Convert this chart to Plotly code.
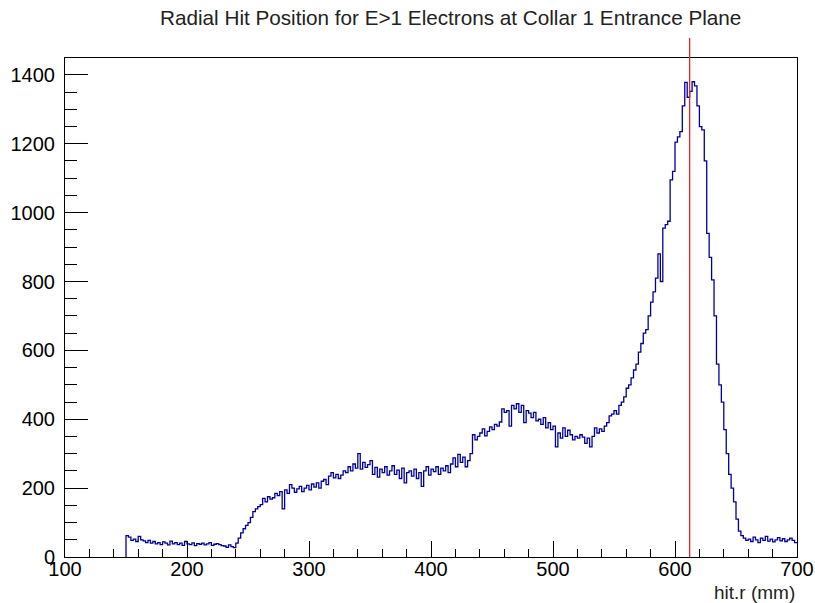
import plotly.graph_objects as go

# Histogram of radial hit position (2 mm bins starting at 150 mm)
bin_start = 150
bin_width = 2
counts = [
    62, 58, 48, 52, 45, 60, 50, 47, 42, 48,
    40, 45, 38, 42, 36, 44, 40, 35, 46, 38,
    42, 36, 40, 34, 45, 38, 36, 41, 33, 39,
    37, 40, 35, 38, 42, 34, 37, 39, 36, 33,
    32, 28, 35, 30, 27, 40, 55, 70, 82, 92,
    100, 115, 132, 140, 146, 152, 170, 160, 175, 168,
    172, 185, 178, 190, 140, 195, 185, 210, 200, 188,
    198, 205, 190, 200, 208, 195, 212, 203, 215, 200,
    220, 225, 210, 235, 245, 230, 240, 228, 238, 250,
    245, 262, 250, 270, 258, 300, 255, 275, 260, 268,
    280, 240, 260, 232, 255, 245, 262, 238, 250, 265,
    240, 252, 228, 258, 215, 245, 250, 235, 255, 228,
    245, 205, 250, 262, 238, 255, 248, 262, 240, 258,
    250, 265, 245, 270, 288, 262, 298, 275, 290, 262,
    280, 300, 355, 340, 350, 360, 372, 352, 365, 378,
    370, 385, 380, 392, 430, 420, 425, 380, 440, 430,
    445, 420, 440, 390, 425, 418, 405, 420, 395, 400,
    385, 405, 375, 390, 370, 380, 320, 360, 345, 375,
    350, 368, 355, 340, 350, 345, 355, 348, 330, 345,
    320, 350, 375, 360, 372, 365, 380, 390, 410, 415,
    425, 415, 440, 450, 465, 490, 500, 520, 543, 560,
    595, 620, 650, 660, 700, 740, 770, 810, 880, 800,
    955, 965, 975, 1095, 1120, 1205, 1220, 1235, 1310, 1378,
    1335, 1352, 1380, 1368, 1310, 1250, 1240, 1150, 940, 870,
    805, 700, 560, 500, 450, 370, 300, 240, 200, 160,
    110, 75, 62, 55, 48, 52, 45, 58, 50, 42,
    55, 48, 60, 46, 52, 44, 50, 56, 47, 53,
    45, 50, 55, 48, 42,
]
cut_position = 612  # mm, vertical marker

x_ticks = [100, 200, 300, 400, 500, 600, 700]
y_ticks = [0, 200, 400, 600, 800, 1000, 1200, 1400]

edges = [bin_start + bin_width * i for i in range(len(counts) + 1)]
step_x = [edges[0]] + edges
step_y = [0] + counts + [counts[-1]]

fig = go.Figure()
fig.add_trace(go.Scatter(
    x=step_x, y=step_y, mode="lines", line_shape="hv",
    line=dict(color="#000099", width=1.3), hoverinfo="skip", showlegend=False,
))

fig.add_shape(type="line", xref="x", yref="paper",
              x0=cut_position, x1=cut_position, y0=0, y1=1.04,
              line=dict(color="#ee2222", width=1.3), layer="above")

font = "Liberation Sans, Arial, Helvetica, sans-serif"
ymax = 1.05 * max(counts)

fig.update_layout(
    width=815, height=603,
    margin=dict(l=65, r=18, t=58, b=46, autoexpand=False),
    paper_bgcolor="white", plot_bgcolor="white",
    font=dict(family=font, size=20, color="black"),
    title=dict(text="Radial Hit Position for E>1 Electrons at Collar 1 Entrance Plane",
               x=0.553, xanchor="center", y=0.97, yanchor="middle",
               font=dict(size=20.7, color="#222222")),
    xaxis=dict(range=[100, 700], tickvals=x_ticks, ticks="inside", ticklen=16,
               tickcolor="black", tickwidth=1, showgrid=False, zeroline=False,
               showline=True, linecolor="black", linewidth=1, mirror=True,
               tickfont=dict(size=20), automargin=False, ticklabelstandoff=-6,
               minor=dict(dtick=20, ticks="inside", ticklen=8, tickcolor="black", showgrid=False)),
    yaxis=dict(range=[0, ymax], tickvals=y_ticks, ticks="inside", ticklen=23,
               tickcolor="black", tickwidth=1, showgrid=False, zeroline=False,
               showline=True, linecolor="black", linewidth=1, mirror=True,
               tickfont=dict(size=20), ticklabelstandoff=5, automargin=False,
               minor=dict(dtick=50, ticks="inside", ticklen=12, tickcolor="black", showgrid=False)),
    annotations=[dict(text="hit.r (mm)", xref="paper", yref="paper", x=1.0, y=-0.046,
                      xanchor="right", yanchor="top", showarrow=False,
                      font=dict(size=19, color="#222222"))],
)

fig.write_html("out.html")
